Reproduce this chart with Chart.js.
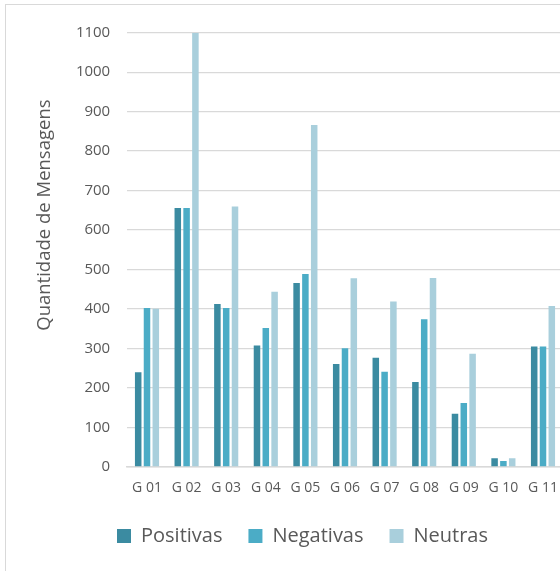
<!DOCTYPE html>
<html lang="pt">
<head>
<meta charset="utf-8">
<title>Mensagens por grupo</title>
<script src="https://cdn.jsdelivr.net/npm/chart.js@4.4.1/dist/chart.umd.min.js"></script>
<style>
    html, body { margin: 0; padding: 0; background: #fff; overflow: hidden; }
    #chartBox {
        position: absolute;
        left: 5px;
        top: 4px;
        width: 593px;
        height: 580px;
        border: 1px solid #d9d9d9;
    }
</style>
</head>
<body>
<div id="chartBox"><canvas id="msgChart"></canvas></div>
<script>
// Data
const groups = ['G 01', 'G 02', 'G 03', 'G 04', 'G 05', 'G 06', 'G 07', 'G 08', 'G 09', 'G 10', 'G 11'];
const positivas = [240, 656, 413, 308, 466, 261, 277, 215, 135, 22, 305];
const negativas = [403, 656, 403, 352, 489, 301, 241, 374, 162, 15, 305];
const neutras = [401, 1100, 660, 444, 866, 478, 419, 479, 287, 22, 408];
const yTicks = [0, 100, 200, 300, 400, 500, 600, 700, 800, 900, 1000, 1100];

const textColor = '#595959';
const gridColor = '#d9d9d9';
const fontFamily = '"Open Sans", "Noto Sans", sans-serif';

// Draws the rotated y axis title a bit above the middle, like the original
const axisTitle = {
    id: 'axisTitle',
    afterDraw(chart) {
        const { ctx, chartArea } = chart;
        const y = chartArea.top + (chartArea.bottom - chartArea.top) * 0.42;
        ctx.save();
        ctx.translate(39, y);
        ctx.rotate(-Math.PI / 2);
        ctx.font = `18.5px ${fontFamily}`;
        ctx.fillStyle = textColor;
        ctx.textAlign = 'center';
        ctx.textBaseline = 'middle';
        ctx.fillText('Quantidade de Mensagens', 0, 0);
        ctx.restore();
    }
};

const barSet = (label, data, color) => ({
    label: label,
    data: data,
    backgroundColor: color,
    borderWidth: 0,
    categoryPercentage: 0.667,
    barPercentage: 0.74
});

const ctx = document.getElementById('msgChart').getContext('2d');
const msgChart = new Chart(ctx, {
    type: 'bar',
    data: {
        labels: groups,
        datasets: [
            barSet('Positivas', positivas, '#3b8ba1'),
            barSet('Negativas', negativas, '#4bacc6'),
            barSet('Neutras', neutras, '#a9cfdc')
        ]
    },
    options: {
        responsive: true,
        maintainAspectRatio: false,
        animation: false,
        layout: {
            padding: { left: 0, right: 0, top: 27.7, bottom: 29 }
        },
        plugins: {
            legend: {
                position: 'bottom',
                labels: {
                    color: textColor,
                    font: { family: fontFamily, size: 20 },
                    boxWidth: 14,
                    boxHeight: 14,
                    padding: 26
                }
            },
            tooltip: { enabled: false }
        },
        scales: {
            x: {
                grid: { display: false, drawTicks: false },
                border: { color: gridColor, width: 1.5 },
                ticks: {
                    color: textColor,
                    font: { family: fontFamily, size: 14 },
                    padding: 13,
                    maxRotation: 0,
                    autoSkip: false
                },
                afterFit: (scale) => { scale.height = 33; }
            },
            y: {
                min: 0,
                max: 1100,
                grid: { color: gridColor, lineWidth: 1.3, drawTicks: false },
                border: { display: false },
                afterBuildTicks: (scale) => { scale.ticks = yTicks.map(v => ({ value: v })); },
                ticks: {
                    color: textColor,
                    font: { family: fontFamily, size: 15 },
                    padding: 17,
                    callback: (value) => String(value)
                },
                afterFit: (scale) => { scale.width = 121.2; }
            },
            // empty right-hand space of the original chart area
            yRight: {
                position: 'right',
                grid: { display: false, drawTicks: false },
                border: { display: false },
                ticks: { display: false },
                afterFit: (scale) => { scale.width = 36.2; }
            }
        }
    },
    plugins: [axisTitle]
});
</script>
</body>
</html>
